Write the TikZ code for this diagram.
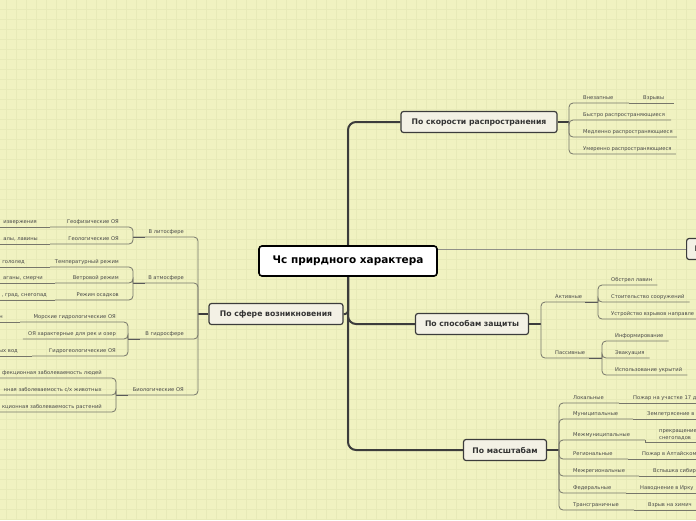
\documentclass[tikz,border=0pt]{standalone}
\usepackage{fontspec}
\setmainfont{DejaVu Sans}
\usetikzlibrary{backgrounds}
\definecolor{paper}{RGB}{240,242,193}
\definecolor{gridline}{RGB}{231,234,184}
\definecolor{trunkc}{RGB}{60,60,60}
\definecolor{linkc}{RGB}{118,118,106}
\definecolor{leaftext}{RGB}{72,72,72}
\definecolor{topicfill}{RGB}{243,241,229}
\begin{document}
\begin{tikzpicture}[x=1pt, y=-1pt,
  root/.style={draw=black, line width=1.6pt, fill=white, rounded corners=3pt, minimum width=178pt, minimum height=30pt, inner sep=0pt, font=\fontsize{10.5}{12}\selectfont\bfseries},
  topic/.style={draw=trunkc, line width=1.2pt, fill=topicfill, rounded corners=2.5pt, minimum height=21pt, inner sep=0pt, text=black!80, font=\fontsize{7.7}{9}\selectfont\bfseries},
  leaf/.style={inner sep=0pt, text=leaftext, font=\fontsize{5.2}{7}\selectfont},
  trunk/.style={draw=trunkc, line width=2pt, rounded corners=8pt},
  link/.style={draw=linkc, line width=0.8pt, rounded corners=4pt},
  stem/.style={draw=trunkc, line width=1.4pt},
  stub/.style={draw=trunkc!85, line width=1pt}
]
\useasboundingbox (0,0) rectangle (696,520);
\coordinate (edgeL) at (-2,0);
\coordinate (edgeR) at (700,0);

% root and main topics
\node[root] (rt) at (348,261) {Чс прирдного характера};
\node[topic, minimum width=156pt] (spd) at (479,122) {По скорости распространения};
\node[topic, minimum width=134pt] (sph) at (276,314) {По сфере возникновения};
\node[topic, minimum width=113pt] (prt) at (472,324) {По способам защиты};
\node[topic, minimum width=83pt] (msh) at (505,450) {По масштабам};
\node[topic, anchor=west, inner xsep=8pt] (nxt) at (686,249) {П};

% speed
\coordinate (sj) at (569,122);
\node[leaf, anchor=base west] (s1) at (583,99) {Внезапные};
\node[leaf, anchor=base west] (s1a) at (643,99) {Взрывы};
\node[leaf, anchor=base west] (s2) at (583,116) {Быстро распространяющиеся};
\node[leaf, anchor=base west] (s3) at (583,133) {Медленно распространяющиеся};
\node[leaf, anchor=base west] (s4) at (583,150) {Умеренно распространяющиеся};
\coordinate (s1j) at (629,103);

% sphere
\coordinate (fj) at (198,314);
\node[leaf, anchor=base east] (f1) at (184,233) {В литосфере};
\node[leaf, anchor=base east] (f2) at (184,279) {В атмосфере};
\node[leaf, anchor=base east] (f3) at (184,335) {В гидросфере};
\node[leaf, anchor=base east] (f4) at (184,391) {Биологические ОЯ};
\coordinate (lj) at (133,237);
\coordinate (aj) at (133,283);
\coordinate (hj) at (128,339);
\coordinate (bj) at (116,395);
% lithosphere
\node[leaf, anchor=base east] (l1) at (119,223) {Геофизические ОЯ};
\node[leaf, anchor=base east] (l2) at (119,240) {Геологические ОЯ};
\node[leaf, anchor=base east] (l1a) at (37,223) {извержения};
\node[leaf, anchor=base east] (l2a) at (38,240) {алы, лавины};
\coordinate (l1j) at (50,227);
\coordinate (l2j) at (50,244);
% atmosphere
\node[leaf, anchor=base east] (a1) at (119,263) {Температурный режим};
\node[leaf, anchor=base east] (a2) at (119,279) {Ветровой режим};
\node[leaf, anchor=base east] (a3) at (119,296) {Режим осадков};
\node[leaf, anchor=base east] (a1a) at (25,263) {гололед};
\node[leaf, anchor=base east] (a2a) at (43,279) {аганы, смерчи};
\node[leaf, anchor=base east] (a3a) at (47,296) {, град, снегопад};
\coordinate (a1j) at (50,267);
\coordinate (a2j) at (55,283);
\coordinate (a3j) at (55,300);
% hydrosphere
\node[leaf, anchor=base east] (h1) at (116,318) {Морские гидрологические ОЯ};
\node[leaf, anchor=base east] (h2) at (116,335) {ОЯ характерные для рек и озер};
\node[leaf, anchor=base east] (h3) at (116,352) {Гидрогеологические ОЯ};
\node[leaf, anchor=base east] (h1a) at (3,318) {н};
\node[leaf, anchor=base east] (h3a) at (18,352) {ых вод};
\coordinate (h1j) at (20,322);
\coordinate (h3j) at (32,356);
% biology
\node[leaf, anchor=base east] (b1) at (102,374) {фекционная заболеваемость людей};
\node[leaf, anchor=base east] (b2) at (102,391) {нная заболеваемость с/х животных};
\node[leaf, anchor=base east] (b3) at (102,408) {кционная заболеваемость растений};

% protection
\coordinate (pj) at (541,324);
\node[leaf, anchor=base west] (p1) at (555,298) {Активные};
\node[leaf, anchor=base west] (p2) at (555,354) {Пассивные};
\coordinate (actj) at (598,302);
\coordinate (pasj) at (602,358);
\node[leaf, anchor=base west] (p1a) at (611,281) {Обстрел лавин};
\node[leaf, anchor=base west] (p1b) at (611,298) {Стоительство сооружений};
\node[leaf, anchor=base west] (p1c) at (611,315) {Устройство взрывов направле};
\node[leaf, anchor=base west] (p2a) at (615,337) {Информирование};
\node[leaf, anchor=base west] (p2b) at (615,354) {Эвакуация};
\node[leaf, anchor=base west] (p2c) at (615,371) {Использование укрытий};

% scale
\coordinate (mj) at (559,450);
\node[leaf, anchor=base west] (m1) at (573,399) {Локальные};
\node[leaf, anchor=base west] (m2) at (573,415) {Муниципальные};
\node[leaf, anchor=base west] (m3) at (573,436) {Межмуниципальные};
\node[leaf, anchor=base west] (m4) at (573,455) {Региональные};
\node[leaf, anchor=base west] (m5) at (573,472) {Межрегиональные};
\node[leaf, anchor=base west] (m6) at (573,489) {Федеральные};
\node[leaf, anchor=base west] (m7) at (573,506) {Трансграничные};
\node[leaf, anchor=base west] (m1a) at (633,399) {Пожар на участке 17 д};
\node[leaf, anchor=base west] (m2a) at (647,415) {Землетрясение в};
\node[leaf, anchor=south west, align=left] (m3a) at (659,440) {прекращение\\снегопадов};
\node[leaf, anchor=base west] (m4a) at (642,455) {Пожар в Алтайском};
\node[leaf, anchor=base west] (m5a) at (653,472) {Вспышка сибир};
\node[leaf, anchor=base west] (m6a) at (640,489) {Наводнение в Ирку};
\node[leaf, anchor=base west] (m7a) at (648,506) {Взрыв на химич};
\coordinate (m1j) at (619,403);
\coordinate (m2j) at (633,419);
\coordinate (m3j) at (645,440);
\coordinate (m3k) at (645,442);
\coordinate (m4j) at (628,459);
\coordinate (m5j) at (639,476);
\coordinate (m6j) at (626,493);
\coordinate (m7j) at (634,510);

\begin{scope}[on background layer]
  \fill[paper] (0,0) rectangle (696,520);
  \foreach \gx in {6,16,...,696} \draw[gridline, line width=0.6pt] (\gx,0) -- (\gx,520);
  \foreach \gy in {9,19,...,519} \draw[gridline, line width=0.6pt] (0,\gy) -- (696,\gy);

  % trunk
  \draw[trunk] (rt.center) |- (spd.west);
  \draw[trunk] (rt.center) |- (prt.west);
  \draw[trunk] (rt.center) |- (msh.west);
  \draw[trunk, rounded corners=3pt] (rt.center) |- (sph.east);
  \draw[draw=linkc!80, line width=1pt] (rt.east |- nxt.west) -- (nxt.west);

  % speed
  \draw[stem] (spd.east) -- (sj);
  \draw[link] (sj) |- (s1j);
  \draw[link] (s1j) -- ([shift={(10,4)}]s1a.base east);
  \draw[link] (sj) |- ([shift={(6,4)}]s2.base east);
  \draw[link] (sj) |- ([shift={(4,4)}]s3.base east);
  \draw[link] (sj) |- ([shift={(4,4)}]s4.base east);

  % sphere
  \draw[stem] (sph.west) -- (fj);
  \draw[link] (fj) |- (lj);
  \draw[link] (fj) |- (aj);
  \draw[link] (fj) |- (hj);
  \draw[link] (fj) |- (bj);
  \draw[stub] (lj) -- ([xshift=12pt]lj);
  \draw[stub] (aj) -- ([xshift=12pt]aj);
  \draw[stub] (hj) -- ([xshift=12pt]hj);
  \draw[stub] (bj) -- ([xshift=12pt]bj);
  \draw[link] (lj) |- (l1j);
  \draw[link] (lj) |- (l2j);
  \draw[link] (l1j) -- (l1j -| edgeL);
  \draw[link] (l2j) -- (l2j -| edgeL);
  \draw[link] (aj) |- (a1j);
  \draw[link] (aj) |- (a2j);
  \draw[link] (aj) |- (a3j);
  \draw[link] (a1j) -- (a1j -| edgeL);
  \draw[link] (a2j) -- (a2j -| edgeL);
  \draw[link] (a3j) -- (a3j -| edgeL);
  \draw[link] (hj) |- (h1j);
  \draw[link] (hj) |- ([shift={(-5,4)}]h2.base west);
  \draw[link] (hj) |- (h3j);
  \draw[link] (h1j) -- (h1j -| edgeL);
  \draw[link] (h3j) -- (h3j -| edgeL);
  \draw[link] (bj) |- ([shift={(0,4)}]b1.base west -| edgeL);
  \draw[link] (bj) |- ([shift={(0,4)}]b2.base west -| edgeL);
  \draw[link] (bj) |- ([shift={(0,4)}]b3.base west -| edgeL);

  % protection
  \draw[stem] (prt.east) -- (pj);
  \draw[link] (pj) |- (actj);
  \draw[link] (pj) |- (pasj);
  \draw[stub] (actj) -- ([xshift=-13pt]actj);
  \draw[stub] (pasj) -- ([xshift=-13pt]pasj);
  \draw[link] (actj) |- ([shift={(5,4)}]p1a.base east);
  \draw[link] (actj) |- ([shift={(5,4)}]p1b.base east);
  \draw[link] (actj) |- ([shift={(0,4)}]p1c.base east -| edgeR);
  \draw[link] (pasj) |- ([shift={(5,4)}]p2a.base east);
  \draw[link] (pasj) |- ([shift={(5,4)}]p2b.base east);
  \draw[link] (pasj) |- ([shift={(5,4)}]p2c.base east);

  % scale
  \draw[stem] (msh.east) -- (mj);
  \draw[link] (mj) |- (m1j);
  \draw[link] (mj) |- (m2j);
  \draw[link] (mj) |- (m3j);
  \draw[link] (mj) |- (m4j);
  \draw[link] (mj) |- (m5j);
  \draw[link] (mj) |- (m6j);
  \draw[link] (mj) |- (m7j);
  \draw[link] (m1j) -- (m1j -| edgeR);
  \draw[link] (m2j) -- (m2j -| edgeR);
  \draw[link, rounded corners=0pt] (m3j) -- (m3k) -- (m3k -| edgeR);
  \draw[link] (m4j) -- (m4j -| edgeR);
  \draw[link] (m5j) -- (m5j -| edgeR);
  \draw[link] (m6j) -- (m6j -| edgeR);
  \draw[link] (m7j) -- (m7j -| edgeR);
\end{scope}
\end{tikzpicture}
\end{document}
